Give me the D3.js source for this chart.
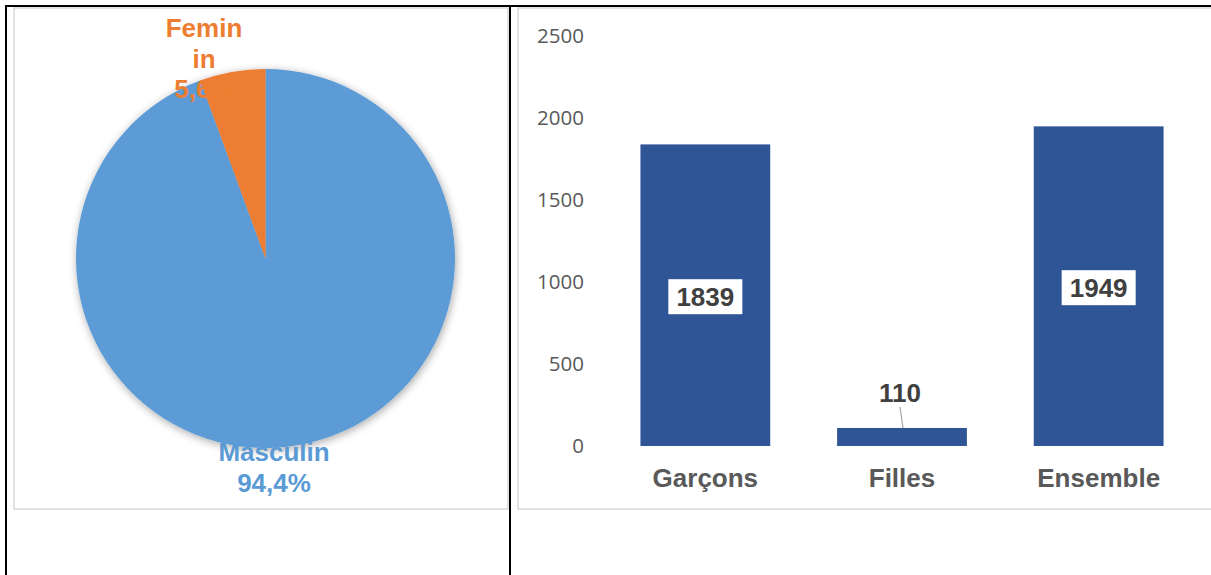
<!DOCTYPE html>
<html>
<head>
<meta charset="utf-8">
<script src="https://cdn.jsdelivr.net/npm/d3@7"></script>
<style>
  html, body { margin: 0; padding: 0; background: #fff; }
  svg { display: block; }
</style>
</head>
<body>
<svg id="chart" width="1211" height="575"></svg>
<script>
const pieLabels = ["Masculin", "Feminin"];
const pieValues = [94.4, 5.6];
const pieColors = ["#5B9BD5", "#ED7D31"];

const barCategories = ["Garçons", "Filles", "Ensemble"];
const barValues = [1839, 110, 1949];
const yTicks = [0, 500, 1000, 1500, 2000, 2500];

const svg = d3.select("#chart");
const pct = (v) => d3.format(".1f")(v).replace(".", ",") + "%";

// shadow for the pie
const defs = svg.append("defs");
const f = defs.append("filter").attr("id", "pieShadow")
  .attr("x", "-20%").attr("y", "-20%").attr("width", "140%").attr("height", "140%");
f.append("feDropShadow")
  .attr("dx", 1).attr("dy", 2).attr("stdDeviation", 4)
  .attr("flood-color", "#000").attr("flood-opacity", 0.35);

// chart frames
svg.append("rect").attr("x", 14).attr("y", 8).attr("width", 494).attr("height", 501)
  .attr("fill", "#fff").attr("stroke", "#d9d9d9").attr("stroke-width", 1.5);
svg.append("rect").attr("x", 518).attr("y", 8).attr("width", 700).attr("height", 501)
  .attr("fill", "#fff").attr("stroke", "#d9d9d9").attr("stroke-width", 1.5);

// ---- pie ----
const pieC = { x: 265.5, y: 258.5, r: 189.5 };
const pieFont = "'Liberation Sans', Arial, sans-serif";

const pie = d3.pie().sort(null)(pieValues);
const arc = d3.arc().innerRadius(0).outerRadius(pieC.r);
const pg = svg.append("g")
  .attr("transform", `translate(${pieC.x},${pieC.y})`)
  .attr("filter", "url(#pieShadow)");
pg.selectAll("path").data(pie).join("path")
  .attr("d", arc)
  .attr("fill", (d, i) => pieColors[i]);

// labels on top (same colour as their slice, so they vanish where they overlap it)
const femLabel = svg.append("text")
  .attr("text-anchor", "middle").attr("font-family", pieFont)
  .attr("font-weight", "bold").attr("font-size", 26).attr("fill", pieColors[1]);
["Femin", "in", pct(pieValues[1])].forEach((t, i) => {
  femLabel.append("tspan").attr("x", 204).attr("y", 37 + i * 30.5).text(t);
});
const masLabel = svg.append("text")
  .attr("text-anchor", "middle").attr("font-family", pieFont)
  .attr("font-weight", "bold").attr("font-size", 26).attr("fill", pieColors[0]);
[pieLabels[0], pct(pieValues[0])].forEach((t, i) => {
  masLabel.append("tspan").attr("x", 274).attr("y", 461 + i * 31).text(t);
});

// ---- bars ----
const y = d3.scaleLinear().domain([0, 2500]).range([446, 36]);
const x = d3.scaleBand().domain(barCategories).range([607, 1197])
  .paddingInner(0.34).paddingOuter(0.17);

const yAxis = svg.append("g")
  .attr("transform", "translate(587,0)")
  .call(d3.axisLeft(y).tickValues(yTicks).tickFormat(d3.format("d"))
    .tickSize(0).tickPadding(3));
yAxis.select(".domain").remove();
yAxis.selectAll("text")
  .attr("font-family", "'Open Sans', sans-serif")
  .attr("font-size", 20.5).attr("fill", "#595959");

const xAxis = svg.append("g")
  .attr("transform", "translate(0,446)")
  .call(d3.axisBottom(x).tickSize(0).tickPadding(22.5));
xAxis.select(".domain").remove();
xAxis.selectAll("text")
  .attr("font-family", pieFont).attr("font-weight", "bold")
  .attr("font-size", 26).attr("fill", "#595959");

svg.append("g").selectAll("rect").data(barValues).join("rect")
  .attr("x", (d, i) => x(barCategories[i]))
  .attr("y", (d) => y(d))
  .attr("width", x.bandwidth())
  .attr("height", (d) => y(0) - y(d))
  .attr("fill", "#2F5597");

// data labels
barValues.forEach((v, i) => {
  const cx = x(barCategories[i]) + x.bandwidth() / 2;
  if (y(0) - y(v) > 60) {
    const cy = (y(v) + y(0)) / 2 + 1.5;
    svg.append("rect").attr("x", cx - 37).attr("y", cy - 17.5)
      .attr("width", 74).attr("height", 35).attr("fill", "#fff");
    svg.append("text").attr("x", cx).attr("y", cy + 9.5)
      .attr("text-anchor", "middle").attr("font-family", pieFont)
      .attr("font-weight", "bold").attr("font-size", 26).attr("fill", "#404040")
      .text(v);
  } else {
    const ty = y(v) - 26;
    svg.append("line")
      .attr("x1", cx - 2).attr("y1", ty + 5)
      .attr("x2", cx + 1).attr("y2", y(v))
      .attr("stroke", "#a6a6a6").attr("stroke-width", 1.2);
    svg.append("text").attr("x", cx - 2).attr("y", ty)
      .attr("text-anchor", "middle").attr("font-family", pieFont)
      .attr("font-weight", "bold").attr("font-size", 26).attr("fill", "#404040")
      .text(v);
  }
});

// table borders
svg.append("rect").attr("x", 5).attr("y", 5).attr("width", 1206).attr("height", 2).attr("fill", "#000");
svg.append("rect").attr("x", 5).attr("y", 5).attr("width", 2).attr("height", 570).attr("fill", "#000");
svg.append("rect").attr("x", 509).attr("y", 5).attr("width", 2).attr("height", 570).attr("fill", "#000");
</script>
</body>
</html>
